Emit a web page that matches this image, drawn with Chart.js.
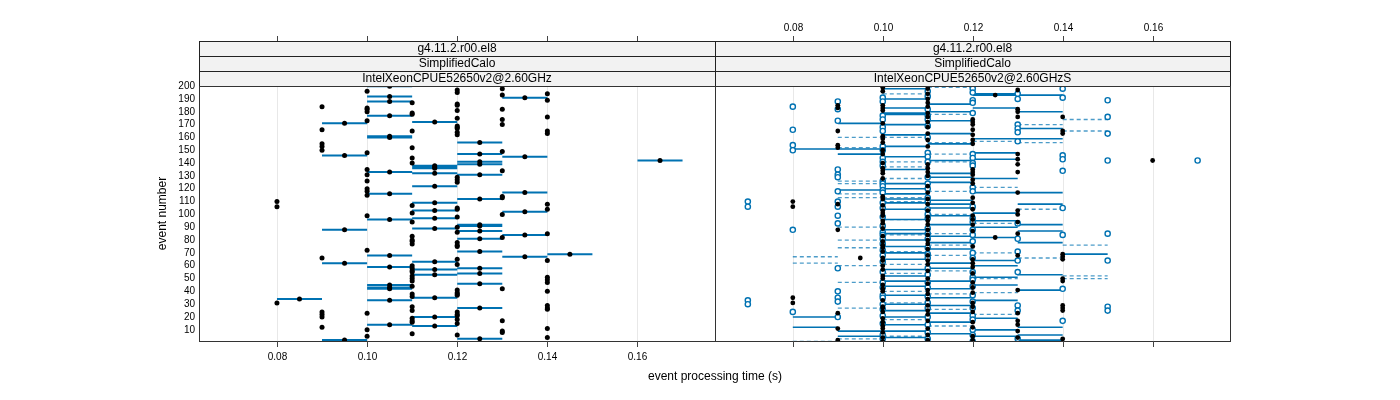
<!DOCTYPE html>
<html>
<head>
<meta charset="utf-8">
<script src="https://cdn.jsdelivr.net/npm/chart.js@4.4.1/dist/chart.umd.min.js"></script>
<style>
  body { margin: 0; background: #fff; }
  #wrap { position: relative; width: 1400px; height: 400px; }
  #wrap canvas { position: absolute; left: 0; top: 0; }
</style>
</head>
<body>
<div id="wrap">
  <canvas id="leftPanel" width="1400" height="400"></canvas>
  <canvas id="rightPanel" width="1400" height="400"></canvas>
</div>
<script>
// tick labels and strip texts
var xTicks = [0.08, 0.10, 0.12, 0.14, 0.16];
var yTicks = [10, 20, 30, 40, 50, 60, 70, 80, 90, 100, 110, 120, 130, 140, 150, 160, 170, 180, 190, 200];
var leftStrips = ['g4.11.2.r00.el8', 'SimplifiedCalo', 'IntelXeonCPUE52650v2@2.60GHz'];
var rightStrips = ['g4.11.2.r00.el8', 'SimplifiedCalo', 'IntelXeonCPUE52650v2@2.60GHzS'];
var xTitle = 'event processing time (s)';
var yTitle = 'event number';

// left panel: events where all runs gave the same time  [time, events]
var leftSingle = [
  [0.08, [110, 106, 31]],
  [0.09, [184, 166, 155, 153, 150, 66, 24, 22, 20, 12]],
  [0.10, [196, 183, 182, 180, 173, 148, 135, 131, 126, 120, 118, 115, 99, 72, 23, 10, 5]],
  [0.11, [187, 179, 178, 165, 152, 144, 140, 107, 101, 94, 83, 80, 79, 77, 60, 58, 56, 55, 52, 50, 48, 44, 38, 36, 28, 25, 19, 17, 16, 7]],
  [0.12, [197, 195, 186, 185, 181, 175, 169, 168, 167, 164, 162, 129, 127, 125, 105, 104, 98, 90, 86, 78, 76, 75, 65, 61, 41, 39, 38, 37, 24, 22, 21, 18, 15, 6]],
  [0.13, [198, 193, 182, 174, 170, 149, 134, 114, 113, 100, 82, 42, 17, 9, 8]],
  [0.14, [194, 189, 176, 165, 163, 108, 104, 85, 64, 51, 49, 47, 40, 29, 27, 26, 11, 4]]
];
// left panel: events with a spread between runs  [low, high, events]
var leftRange = [
  [0.08, 0.09, [34]],
  [0.09, 0.10, [171, 146, 88, 62, 2, 1]],
  [0.10, 0.11, [200, 192, 188, 177, 161, 160, 133, 116, 96, 68, 59, 45, 43, 42, 33, 14]],
  [0.11, 0.12, [172, 138, 137, 136, 132, 122, 109, 103, 97, 89, 63, 57, 53, 35, 20, 13]],
  [0.12, 0.13, [156, 147, 141, 139, 131, 112, 92, 91, 87, 81, 71, 58, 54, 46, 27, 3]],
  [0.13, 0.14, [191, 145, 117, 102, 84, 67]],
  [0.14, 0.15, [69]],
  [0.16, 0.17, [142]]
];

// right panel: filled points  [time, events]
var rightFilled = [
  [0.08, [110, 106, 35, 31]],
  [0.09, [185, 183, 165, 154, 152, 108, 88, 23, 11, 2]],
  [0.095, [66]],
  [0.10, [200, 199, 196, 185, 183, 181, 171, 161, 159, 156, 150, 147, 140, 136, 134, 132, 128, 114, 112, 107, 103, 101, 99, 95, 93, 89, 83, 79, 76, 74, 71, 66, 64, 60, 57, 52, 50, 45, 42, 40, 33, 28, 27, 24, 19, 16, 13, 11, 8, 4, 1]],
  [0.11, [200, 198, 194, 190, 187, 184, 179, 176, 172, 168, 163, 158, 153, 139, 136, 133, 130, 122, 117, 112, 108, 103, 98, 95, 92, 88, 84, 80, 77, 73, 68, 64, 61, 56, 50, 46, 41, 38, 34, 29, 25, 22, 17, 11, 6, 2]],
  [0.12, [174, 172, 170, 166, 162, 158, 155, 135, 133, 131, 127, 124, 113, 109, 104, 99, 96, 92, 87, 75, 65, 62, 59, 54, 47, 43, 39, 31, 28, 24, 16, 12, 5, 2]],
  [0.125, [193, 82]],
  [0.13, [197, 182, 180, 176, 147, 143, 139, 133, 117, 103, 100, 94, 85, 68, 41, 23, 17, 14, 9, 4]],
  [0.14, [176, 165, 163, 69, 67, 65, 50, 48, 29, 27, 25, 3]],
  [0.16, [142]]
];
// right panel: open points  [time, events]
var rightOpen = [
  [0.07, [110, 106, 33, 30]],
  [0.08, [184, 166, 154, 150, 88, 24]],
  [0.09, [188, 182, 173, 135, 131, 129, 118, 110, 106, 99, 93, 58, 40, 35, 32, 20]],
  [0.10, [191, 188, 177, 174, 168, 165, 153, 150, 144, 141, 138, 126, 124, 122, 119, 117, 109, 105, 98, 91, 86, 84, 81, 77, 72, 68, 63, 55, 47, 43, 37, 35, 30, 26, 21, 15, 6, 3]],
  [0.11, [196, 192, 182, 177, 174, 169, 160, 148, 145, 141, 129, 124, 120, 113, 110, 104, 100, 97, 89, 85, 81, 74, 69, 66, 58, 53, 47, 43, 36, 31, 27, 20, 14, 8, 3]],
  [0.12, [200, 198, 195, 189, 187, 179, 147, 144, 140, 138, 121, 118, 106, 97, 94, 88, 84, 79, 70, 66, 55, 51, 49, 44, 37, 32, 27, 21, 18, 10, 6, 1]],
  [0.13, [194, 190, 170, 167, 164, 157, 93, 81, 71, 64, 55, 29, 25, 3]],
  [0.14, [198, 191, 146, 143, 134, 105, 84, 42, 17]],
  [0.15, [189, 176, 163, 142, 85, 64, 28, 25]],
  [0.17, [142]]
];
// right panel: solid spans  [low, high, events]
var rightSolid = [
  [0.08, 0.10, [151]],
  [0.08, 0.09, [20, 12]],
  [0.09, 0.10, [171, 147, 119, 9, 5]],
  [0.10, 0.11, [200, 198, 190, 183, 179, 178, 170, 162, 153, 145, 135, 124, 120, 116, 112, 109, 104, 96, 88, 85, 80, 75, 70, 65, 57, 52, 48, 44, 37, 30, 25, 20, 14, 9, 4]],
  [0.11, 0.12, [186, 180, 173, 163, 155, 142, 132, 129, 125, 111, 108, 105, 99, 92, 83, 78, 73, 62, 58, 48, 42, 35, 29, 23, 16, 7]],
  [0.12, 0.13, [194, 193, 183, 159, 148, 143, 128, 117, 101, 95, 90, 82, 64, 60, 51, 45, 33, 19, 10, 5]],
  [0.13, 0.14, [193, 180, 167, 159, 117, 108, 92, 87, 78, 53, 41, 12, 6, 2]],
  [0.14, 0.15, [69]]
];
// right panel: dashed spans  [low, high, events]
var rightDashed = [
  [0.08, 0.09, [67, 62, 1]],
  [0.09, 0.10, [160, 152, 126, 124, 116, 113, 90, 80, 74, 60, 47, 27, 3]],
  [0.10, 0.11, [194, 160, 141, 137, 128, 113, 110, 96, 84, 71, 61, 54, 40, 31, 18, 5]],
  [0.11, 0.12, [199, 178, 156, 147, 141, 118, 100, 85, 76, 68, 56, 38, 26, 13]],
  [0.12, 0.13, [194, 157, 121, 93, 70, 50, 39, 22]],
  [0.13, 0.14, [170, 156, 104, 66]],
  [0.14, 0.15, [174, 165, 76, 52, 50]]
];

var FONT = '"Liberation Sans", Arial, Helvetica, sans-serif';
var BLUE = '#0072b2';
var X_MIN = 0.0627, X_MAX = 0.1772, Y_MIN = 1.3, Y_MAX = 200.1;

function toPoints(groups) {
  var pts = [];
  groups.forEach(function (g) {
    g[1].forEach(function (ev) { pts.push({ x: g[0], y: ev }); });
  });
  return pts;
}
function rangeMeans(groups) {
  var pts = [];
  groups.forEach(function (g) {
    g[2].forEach(function (ev) { pts.push({ x: (g[0] + g[1]) / 2, y: ev }); });
  });
  return pts;
}
// segments separated by null points so the line breaks between them
function toSegments(groups) {
  var pts = [];
  groups.forEach(function (g) {
    g[2].forEach(function (ev) {
      pts.push({ x: g[0], y: ev }, { x: g[1], y: ev }, { x: null, y: null });
    });
  });
  return pts;
}

var latticeFrame = {
  id: 'latticeFrame',
  beforeDatasetsDraw: function (chart) {
    var ctx = chart.ctx, a = chart.chartArea, xs = chart.scales.x;
    ctx.save();
    ctx.strokeStyle = '#e8e8e8';
    ctx.lineWidth = 1;
    xTicks.forEach(function (t) {
      var px = Math.round(xs.getPixelForValue(t)) + 0.5;
      ctx.beginPath(); ctx.moveTo(px, a.top); ctx.lineTo(px, a.bottom); ctx.stroke();
    });
    ctx.restore();
  },
  afterDraw: function (chart, args, opts) {
    var ctx = chart.ctx, a = chart.chartArea, xs = chart.scales.x, ys = chart.scales.y;
    var stripH = 15, nStrip = opts.strips.length;
    var stripTop = a.top - stripH * nStrip;
    ctx.save();

    // strips
    opts.strips.forEach(function (label, i) {
      var top = stripTop + i * stripH;
      ctx.fillStyle = '#f2f2f2';
      ctx.fillRect(a.left, top, a.right - a.left, stripH);
      ctx.strokeStyle = '#222';
      ctx.lineWidth = 1;
      ctx.strokeRect(a.left + 0.5, top + 0.5, a.right - a.left, stripH);
      ctx.fillStyle = '#000';
      ctx.font = '12px ' + FONT;
      ctx.textAlign = 'center';
      ctx.textBaseline = 'middle';
      ctx.fillText(label, (a.left + a.right) / 2, top + stripH / 2 + 0.5);
    });

    // panel frame
    ctx.strokeStyle = '#333';
    ctx.lineWidth = 1;
    ctx.strokeRect(a.left + 0.5, a.top + 0.5, a.right - a.left, a.bottom - a.top);

    // x ticks top (above strips) and bottom
    ctx.strokeStyle = '#444';
    ctx.fillStyle = '#000';
    ctx.font = '10px ' + FONT;
    ctx.textAlign = 'center';
    ctx.textBaseline = 'middle';
    xTicks.forEach(function (t) {
      var px = Math.round(xs.getPixelForValue(t)) + 0.5;
      ctx.beginPath(); ctx.moveTo(px, stripTop - 5); ctx.lineTo(px, stripTop); ctx.stroke();
      ctx.beginPath(); ctx.moveTo(px, a.bottom); ctx.lineTo(px, a.bottom + 6); ctx.stroke();
      if (opts.topLabels) ctx.fillText(t.toFixed(2), px, stripTop - 13);
      if (opts.bottomLabels) ctx.fillText(t.toFixed(2), px, a.bottom + 16);
    });

    // y labels
    if (opts.yLabels) {
      ctx.textAlign = 'right';
      yTicks.forEach(function (t) {
        ctx.fillText(String(t), a.left - 4, ys.getPixelForValue(t));
      });
      ctx.font = '12px ' + FONT;
      ctx.textAlign = 'center';
      ctx.save();
      ctx.translate(a.left - 36, (a.top + a.bottom) / 2);
      ctx.rotate(-Math.PI / 2);
      ctx.fillText(yTitle, 0, 0);
      ctx.restore();
    }
    if (opts.xTitle) {
      ctx.font = '12px ' + FONT;
      ctx.textAlign = 'center';
      ctx.fillText(xTitle, a.right, a.bottom + 36);
    }
    ctx.restore();
  }
};

function baseOptions(padding, deco) {
  return {
    responsive: false,
    animation: false,
    events: [],
    layout: { padding: padding },
    scales: {
      x: { type: 'linear', display: false, min: X_MIN, max: X_MAX },
      y: { type: 'linear', display: false, min: Y_MIN, max: Y_MAX }
    },
    plugins: {
      legend: { display: false },
      tooltip: { enabled: false },
      latticeFrame: deco
    }
  };
}

var leftChart = new Chart(document.getElementById('leftPanel').getContext('2d'), {
  type: 'scatter',
  data: {
    datasets: [
      {
        data: toPoints(leftSingle).concat(rangeMeans(leftRange)),
        pointRadius: 2.5, pointBackgroundColor: '#000', pointBorderWidth: 0, order: 0
      },
      {
        data: toSegments(leftRange), showLine: true, spanGaps: false,
        borderColor: BLUE, borderWidth: 2, pointRadius: 0, order: 1
      }
    ]
  },
  options: baseOptions({ left: 199, right: 685, top: 86, bottom: 59 },
    { strips: leftStrips, topLabels: false, bottomLabels: true, yLabels: true, xTitle: true }),
  plugins: [latticeFrame]
});

var rightChart = new Chart(document.getElementById('rightPanel').getContext('2d'), {
  type: 'scatter',
  data: {
    datasets: [
      {
        data: toPoints(rightFilled),
        pointRadius: 2.4, pointBackgroundColor: '#000', pointBorderWidth: 0, order: 0
      },
      {
        data: toPoints(rightOpen),
        pointRadius: 2.6, pointBackgroundColor: '#fff', pointBorderColor: BLUE, pointBorderWidth: 1.4, order: 1
      },
      {
        data: toSegments(rightSolid), showLine: true, spanGaps: false,
        borderColor: BLUE, borderWidth: 1.6, pointRadius: 0, order: 2
      },
      {
        data: toSegments(rightDashed), showLine: true, spanGaps: false,
        borderColor: 'rgba(0,114,178,0.7)', borderWidth: 1.3, borderDash: [4, 3], pointRadius: 0, order: 3
      }
    ]
  },
  options: baseOptions({ left: 715, right: 170, top: 86, bottom: 59 },
    { strips: rightStrips, topLabels: true, bottomLabels: false, yLabels: false, xTitle: false }),
  plugins: [latticeFrame]
});
</script>
</body>
</html>
